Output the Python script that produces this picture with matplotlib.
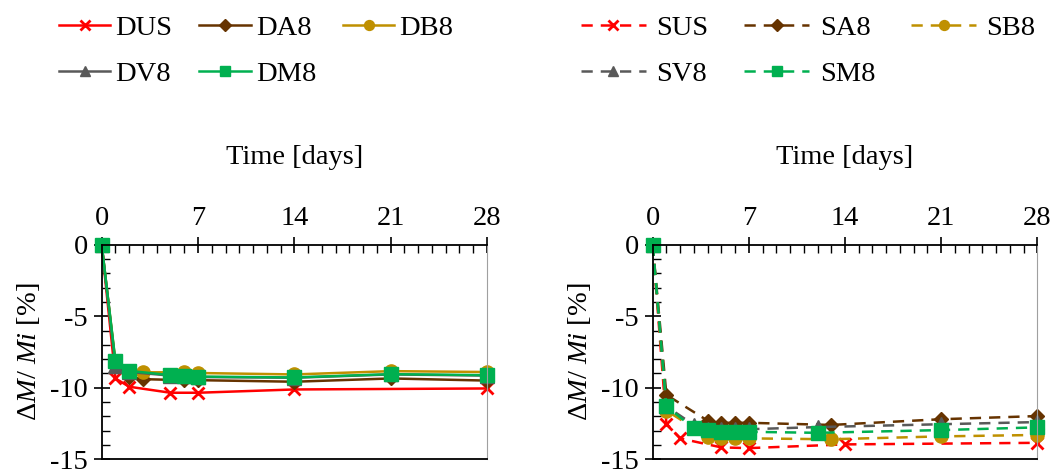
import matplotlib
matplotlib.use("Agg")
import matplotlib.pyplot as plt
from matplotlib.ticker import MultipleLocator

plt.rcParams['font.family'] = ['Liberation Serif', 'DejaVu Serif']
plt.rcParams['font.size'] = 20.5
plt.rcParams['axes.unicode_minus'] = False
plt.rcParams['mathtext.fontset'] = 'custom'
plt.rcParams['mathtext.rm'] = 'Liberation Serif'
plt.rcParams['mathtext.it'] = 'Liberation Serif:italic'

# ---- data ----
# left panel: solid lines
dus_days = [0, 1, 2, 5, 7, 14, 28]
dus_vals = [0, -9.35, -9.93, -10.35, -10.35, -10.12, -10.05]
da8_days = [0, 1, 2, 3, 6, 7, 14, 21, 28]
da8_vals = [0, -8.3, -9.25, -9.4, -9.47, -9.47, -9.58, -9.35, -9.5]
db8_days = [0, 1, 2, 3, 6, 7, 14, 21, 28]
db8_vals = [0, -8.2, -8.85, -8.92, -8.92, -8.97, -9.07, -8.84, -8.9]
dv8_days = [0, 1, 2, 5, 6, 7, 14, 21, 28]
dv8_vals = [0, -8.45, -8.9, -9.15, -9.2, -9.25, -9.3, -9.07, -9.15]
dm8_days = [0, 1, 2, 5, 6, 7, 14, 21, 28]
dm8_vals = [0, -8.14, -8.82, -9.12, -9.16, -9.22, -9.28, -9.05, -9.12]

# right panel: dashed lines
sus_days = [0, 1, 2, 5, 7, 14, 28]
sus_vals = [0, -12.5, -13.54, -14.17, -14.22, -13.96, -13.85]
sa8_days = [0, 1, 4, 5, 6, 7, 13, 21, 28]
sa8_vals = [0, -10.5, -12.3, -12.45, -12.45, -12.45, -12.6, -12.2, -11.98]
sb8_days = [0, 1, 4, 5, 6, 7, 13, 21, 28]
sb8_vals = [0, -11.6, -13.42, -13.54, -13.54, -13.54, -13.6, -13.4, -13.3]
sv8_days = [0, 1, 3, 4, 5, 6, 7, 12, 21, 28]
sv8_vals = [0, -11.3, -12.6, -12.85, -12.9, -12.9, -12.9, -12.75, -12.55, -12.4]
sm8_days = [0, 1, 3, 4, 5, 6, 7, 12, 21, 28]
sm8_vals = [0, -11.3, -12.84, -12.96, -13.08, -13.08, -13.08, -13.15, -12.96, -12.77]

red = '#FF0000'
brown = '#663300'
gold = '#BF9000'
grey = '#595959'
green = '#00B050'

fig = plt.figure(figsize=(10.58, 4.75), dpi=100)
ax1 = fig.add_axes([0.0961, 0.0331, 0.3642, 0.4518])
ax2 = fig.add_axes([0.6169, 0.0331, 0.3635, 0.4518])

dash = (0, (4.5, 3.2))

left_series = [
    ('DUS', dus_days, dus_vals, red, 'x', 9),
    ('DA8', da8_days, da8_vals, brown, 'D', 7.5),
    ('DB8', db8_days, db8_vals, gold, 'o', 9.5),
    ('DV8', dv8_days, dv8_vals, grey, '^', 9.5),
    ('DM8', dm8_days, dm8_vals, green, 's', 9.5),
]
right_series = [
    ('SUS', sus_days, sus_vals, red, 'x', 9),
    ('SA8', sa8_days, sa8_vals, brown, 'D', 7.5),
    ('SB8', sb8_days, sb8_vals, gold, 'o', 9.5),
    ('SV8', sv8_days, sv8_vals, grey, '^', 9.5),
    ('SM8', sm8_days, sm8_vals, green, 's', 9.5),
]

for name, d, v, c, m, ms in left_series:
    ax1.plot(d, v, color=c, marker=m, ms=ms, mew=2 if m == 'x' else 1,
             lw=1.8, label=name, clip_on=False)
for name, d, v, c, m, ms in right_series:
    ax2.plot(d, v, color=c, marker=m, ms=ms, mew=2 if m == 'x' else 1,
             lw=1.8, ls=dash, label=name, clip_on=False)

for ax in (ax1, ax2):
    ax.set_xlim(0, 28)
    ax.set_ylim(-15, 0)
    ax.xaxis.set_major_locator(MultipleLocator(7))
    ax.xaxis.set_minor_locator(MultipleLocator(1))
    ax.yaxis.set_major_locator(MultipleLocator(5))
    ax.yaxis.set_minor_locator(MultipleLocator(1))
    ax.xaxis.tick_top()
    ax.xaxis.set_label_position('top')
    ax.tick_params(axis='x', which='major', direction='inout', length=12,
                   width=1.2, pad=4, top=True, bottom=False)
    ax.tick_params(axis='x', which='minor', direction='in', length=6,
                   width=1, top=True, bottom=False)
    ax.tick_params(axis='y', which='major', direction='inout', length=12,
                   width=1.2, pad=4)
    ax.tick_params(axis='y', which='minor', direction='in', length=6, width=1)
    ax.set_xlabel('Time [days]', labelpad=30)
    ax.set_ylabel(r'Δ$M$/ $Mi$ [%]', labelpad=6)
    for s in ('left', 'top', 'bottom'):
        ax.spines[s].set_linewidth(1.3)
        ax.spines[s].set_color('black')
    ax.spines['right'].set_color('#a0a0a0')
    ax.spines['right'].set_linewidth(0.8)

# legend is filled column by column, reorder so rows read like the reference
order = [0, 3, 1, 4, 2]
h1, l1 = ax1.get_legend_handles_labels()
fig.legend([h1[i] for i in order], [l1[i] for i in order], loc='upper left',
           bbox_to_anchor=(0.053, 0.975), ncol=3, frameon=False,
           handlelength=1.8, handletextpad=0.18, columnspacing=0.95,
           labelspacing=0.72, markerscale=0.75, borderpad=0.1, borderaxespad=0)
h2, l2 = ax2.get_legend_handles_labels()
fig.legend([h2[i] for i in order], [l2[i] for i in order], loc='upper left',
           bbox_to_anchor=(0.546, 0.975), ncol=3, frameon=False,
           handlelength=2.3, handletextpad=0.36, columnspacing=1.25,
           labelspacing=0.72, markerscale=0.75, borderpad=0.1, borderaxespad=0)

fig.savefig('out.png', dpi=100)
